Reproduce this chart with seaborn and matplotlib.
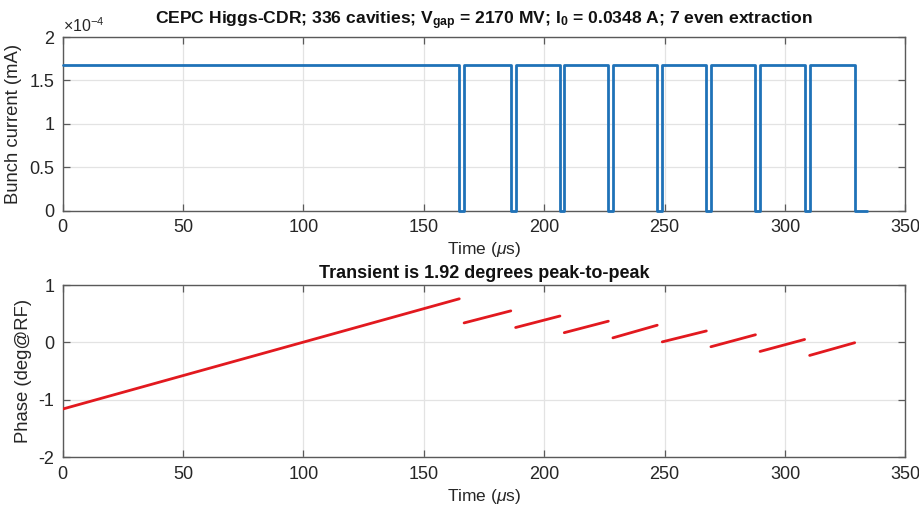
import numpy as np
import pandas as pd
import matplotlib
matplotlib.use("Agg")
import matplotlib.pyplot as plt
from matplotlib.ticker import FuncFormatter
import seaborn as sns

# Bunch trains in one revolution (start/end times in microseconds)
train_start = [0.0, 166.7, 188.1, 208.3, 228.5, 249.0, 269.2, 289.6, 310.2]
train_end = [164.7, 186.1, 206.5, 226.6, 246.9, 267.3, 287.7, 308.1, 328.9]
bunch_current = 1.68e-4   # mA
revolution_end = 334.0    # us

# Cavity phase at the start and end of each train (deg@RF)
phase_start = [-1.16, 0.34, 0.26, 0.17, 0.08, 0.01, -0.075, -0.157, -0.226]
phase_end = [0.76, 0.55, 0.46, 0.37, 0.30, 0.20, 0.134, 0.052, -0.005]

x_ticks = [0, 50, 100, 150, 200, 250, 300, 350]
current_ticks = [0, 0.5e-4, 1.0e-4, 1.5e-4, 2.0e-4]
phase_ticks = [-2, -1, 0, 1]

title_top = (r"CEPC Higgs-CDR; 336 cavities; V$_{\mathbf{gap}}$ = 2170 MV; "
             r"I$_{\mathbf{0}}$ = 0.0348 A; 7 even extraction")
title_bottom = "Transient is 1.92 degrees peak-to-peak"

# Step waveform of the bunch current
t_pts, i_pts = [], []
for k, (s, e) in enumerate(zip(train_start, train_end)):
    if k > 0:
        t_pts.append(s); i_pts.append(0.0)
    t_pts += [s, e]; i_pts += [bunch_current, bunch_current]
    t_pts.append(e); i_pts.append(0.0)
t_pts.append(revolution_end); i_pts.append(0.0)
current_df = pd.DataFrame({"t": t_pts, "I": i_pts})

rows = []
for k in range(len(train_start)):
    rows.append({"t": train_start[k], "phase": phase_start[k], "seg": k})
    rows.append({"t": train_end[k], "phase": phase_end[k], "seg": k})
phase_df = pd.DataFrame(rows)

sns.set_theme(style="white")
plt.rcParams["font.family"] = ["Liberation Sans", "DejaVu Sans"]
plt.rcParams["mathtext.fontset"] = "custom"
plt.rcParams["mathtext.rm"] = "Liberation Sans"
plt.rcParams["mathtext.it"] = "Liberation Sans:italic"
plt.rcParams["mathtext.bf"] = "Liberation Sans:bold"
plt.rcParams["axes.unicode_minus"] = False

fig = plt.figure(figsize=(9.19, 5.05), dpi=100)
ax1 = fig.add_axes([0.0682, 0.5828, 0.9171, 0.3439])
ax2 = fig.add_axes([0.0682, 0.0945, 0.9171, 0.3411])

blue = "#1f72b8"
red = "#e2191f"
spine_c = "#5a5a5a"
grid_c = "#e3e3e3"
text_c = "#262626"

sns.lineplot(data=current_df, x="t", y="I", sort=False, estimator=None,
             color=blue, linewidth=2.0, ax=ax1, zorder=5, clip_on=False)
sns.lineplot(data=phase_df, x="t", y="phase", units="seg", estimator=None,
             color=red, linewidth=2.0, ax=ax2, zorder=5)

for ax in (ax1, ax2):
    ax.set_xlim(0, 350)
    ax.set_xticks(x_ticks)
    ax.grid(True, color=grid_c, linewidth=0.9)
    ax.set_axisbelow(True)
    for sp in ax.spines.values():
        sp.set_visible(True)
        sp.set_color(spine_c)
        sp.set_linewidth(1.0)
    ax.tick_params(direction="in", length=5, width=0.9, color=spine_c,
                   labelsize=13, labelcolor=text_c, top=True, right=True,
                   bottom=True, left=True, pad=6)
    ax.set_xlabel(r"Time ($\mu$s)", fontsize=12.5, color=text_c, labelpad=3)

ax1.set_ylim(0, 2e-4)
ax1.set_yticks(current_ticks)
ax1.yaxis.set_major_formatter(FuncFormatter(lambda v, p: f"{v * 1e4:g}"))
ax1.set_ylabel("Bunch current (mA)", fontsize=13.3, color=text_c, labelpad=5)
ax1.text(0.0, 1.01, r"$\times$10$^{-4}$", transform=ax1.transAxes,
         fontsize=11.5, color=text_c, ha="left", va="bottom")
ax1.set_title(title_top, fontsize=12.6, fontweight="bold", pad=9,
              color="#111111")

ax2.set_ylim(-2, 1)
ax2.set_yticks(phase_ticks)
ax2.set_ylabel("Phase (deg@RF)", fontsize=13.3, color=text_c, labelpad=5)
ax2.set_title(title_bottom, fontsize=13, fontweight="bold", pad=5,
              color="#111111")

fig.savefig("out.png", dpi=100, facecolor="white")
